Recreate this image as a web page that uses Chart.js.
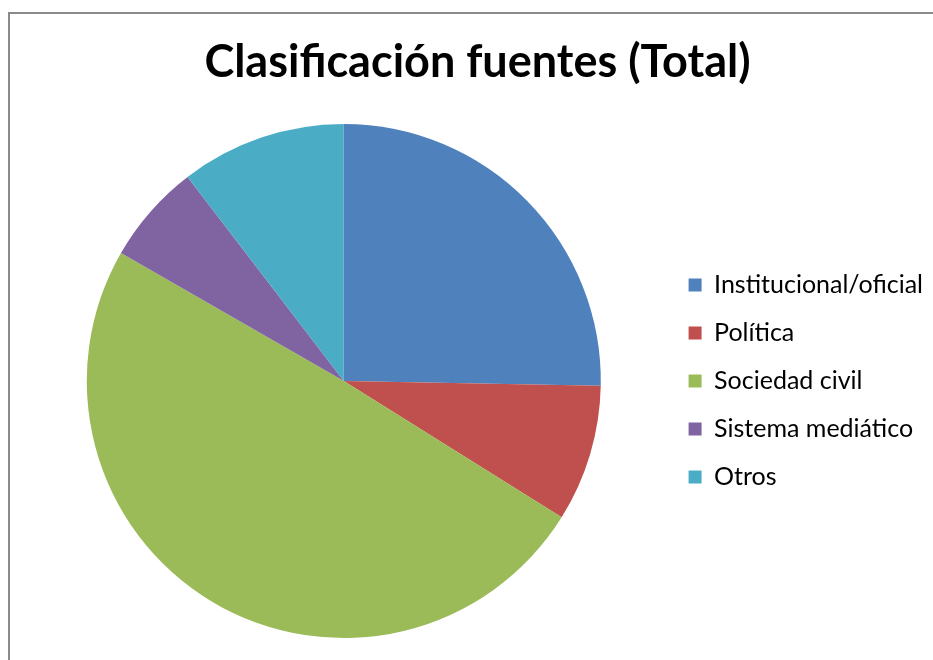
<!DOCTYPE html>
<html>
<head>
<meta charset="utf-8">
<script src="https://cdn.jsdelivr.net/npm/chart.js@4"></script>
<style>
  html, body { margin: 0; padding: 0; background: #fff; overflow: hidden; }
  #frame { position: absolute; left: 8px; top: 12px; width: 940px; height: 660px;
           border-left: 2px solid #8a8a8a; border-top: 2px solid #8a8a8a; }
  #fuentesChart { position: absolute; left: 0; top: 0; }
</style>
</head>
<body>
<div id="frame"></div>
<canvas id="fuentesChart" width="933" height="660"></canvas>
<script>
// Clasificacion de fuentes, porcentaje del total
var categorias = ["Institucional/oficial", "Política", "Sociedad civil", "Sistema mediático", "Otros"];
var valores = [25.3, 8.6, 49.4, 6.3, 10.4];
var colores = ["#4F81BD", "#C0504D", "#9BBB59", "#8064A2", "#4BACC6"];

document.addEventListener("DOMContentLoaded", function(){
  var ctx = document.querySelector("#fuentesChart").getContext("2d");
  var pieChart = new Chart(ctx, {
    type: 'pie',
    data: {
      labels: categorias,
      datasets: [{
        data: valores,
        backgroundColor: colores,
        borderWidth: 0
      }]
    },
    options: {
      responsive: false,
      animation: false,
      devicePixelRatio: 1,
      layout: { padding: { left: 22, right: 0, top: 0, bottom: 22 } },
      plugins: {
        title: {
          display: true,
          text: "Clasificación fuentes (Total)",
          color: "#000",
          font: { family: "Lato", size: 45, weight: "bold" },
          padding: { top: 35, bottom: 35 }
        },
        legend: {
          position: 'right',
          fullSize: false,
          labels: {
            color: "#000",
            boxWidth: 13,
            boxHeight: 13,
            padding: 23,
            font: { family: "Lato", size: 25 }
          }
        },
        tooltip: { enabled: false }
      }
    }
  });
});
</script>
</body>
</html>
